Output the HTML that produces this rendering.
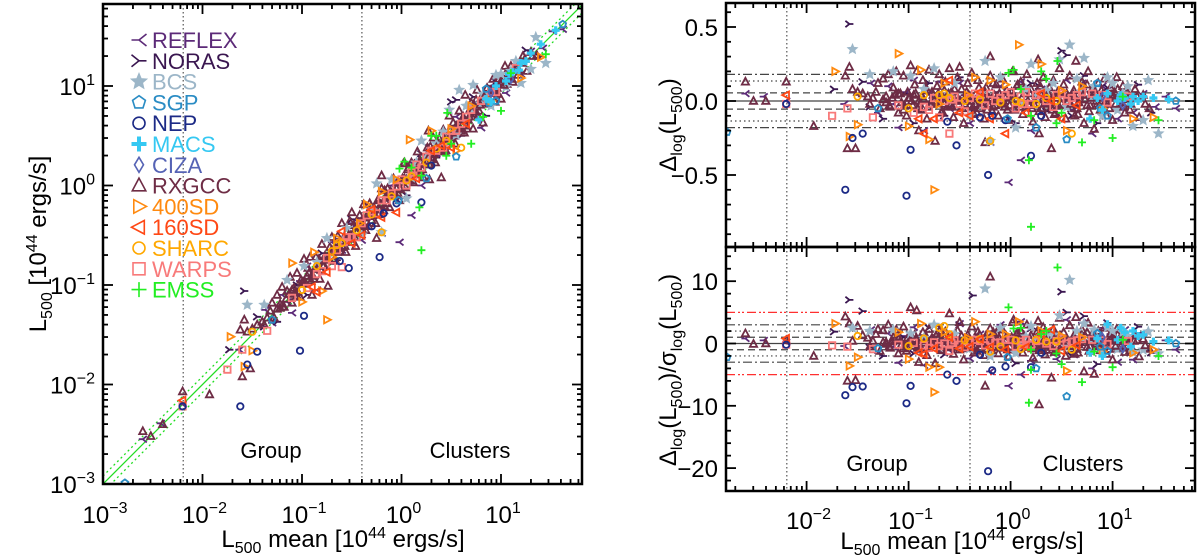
<!DOCTYPE html>
<html><head><meta charset="utf-8"><style>
html,body{margin:0;padding:0;background:#fff;}
svg{display:block;font-family:"Liberation Sans",sans-serif;}
</style></head><body>
<svg id="fig" width="1200" height="558" viewBox="0 0 1200 558" xmlns="http://www.w3.org/2000/svg">
<g id="grid"></g><g id="marks"></g><g id="axes"></g><g id="txt"></g>
</svg>
<script>
// ---- data: [log10 mean L500, delta_log, delta/sigma] ----
const catalogs = ["REFLEX","NORAS","BCS","SGP","NEP","MACS","CIZA","RXGCC","400SD","160SD","SHARC","WARPS","EMSS"];
const reflex = [[-2.6,0.05,0.8],[-2.42,0.03,0.5],[-2.2,0,0.2],[-1.63,-0.02,-0.4],[-1.37,0.12,2.2],[-1.3,-0.08,-1.5],[-1.2,0.1,1.6],[-1.1,-0.18,-3.1],[-1.02,0.06,1.2],[-0.95,0.14,2.6],[-0.85,-0.2,-3.5],[-0.8,0.05,0.9],[-0.7,0.13,2.8],[-0.6,-0.05,-1.1],[-0.5,0.12,3.2],[-0.4,-0.15,-2.4],[-0.3,0.07,1.5],[-0.2,-0.28,-4.5],[-0.1,0.1,3.0],[0.0,-0.05,-1.2],[0.1,0.13,3.5],[0.2,-0.2,-2.8],[0.3,0.08,2.0],[0.45,-0.1,-2.5],[0.55,0.14,3.8],[0.62,-0.06,-1.8],[0.7,0.12,3.3],[0.8,-0.22,-4.0],[0.9,0.1,2.5],[0.98,0.05,1.5],[1.05,-0.12,-3.0],[1.12,0.06,2.2],[1.2,-0.08,-2.6],[1.3,0.05,1.7],[1.42,-0.04,-1.3],[1.52,0.03,0.5],[1.62,-0.05,-1.0],[-0.02,-0.55,-6.8],[0.1,-0.4,-5.0],[-1.15,-0.02,-0.5],[-0.45,0.04,0.8],[0.35,-0.03,-0.6]];
const noras = [[-1.73,0.08,1.9],[-1.58,0.52,7.0],[-1.45,0.13,5.2],[-1.25,-0.12,-2.0],[-1.05,0.05,1.0],[-0.95,-0.15,-1.6],[-0.8,0.12,2.5],[-0.65,-0.1,-1.8],[-0.5,0.16,3.0],[-0.35,-0.05,-0.8],[-0.15,0.06,1.3],[0.05,-0.15,-3.2],[0.2,0.12,2.4],[0.35,-0.07,-1.5],[0.5,0.34,8.3],[0.55,0.31,5.0],[0.6,-0.1,-2.0],[0.72,0.17,4.4],[0.85,-0.15,-3.3],[0.95,0.09,3.3],[1.1,-0.03,-0.9],[1.25,0.11,2.7],[1.38,-0.08,-1.5],[-0.37,0.02,7.7],[-1.38,-0.04,-0.6],[0.28,0.1,1.9]];
const bcs = [[-1.55,0.35,2.5],[-1.38,0.18,2.0],[-1.15,0.2,2.2],[-0.98,0.17,1.6],[-0.75,0.22,3.0],[-0.55,0.12,1.5],[-0.4,-0.1,-0.8],[-0.25,0.27,8.8],[-0.1,0.16,2.5],[0.05,-0.18,-1.5],[0.2,0.25,2.8],[0.35,0.07,1.2],[0.48,0.28,4.5],[0.58,0.38,10.2],[0.65,0.15,2.0],[0.72,0.29,3.2],[0.82,0.1,2.2],[0.9,-0.1,-1.5],[1.0,0.12,2.0],[1.1,0.05,1.8],[1.2,-0.17,-1.4],[1.3,-0.13,-1.0],[1.45,-0.22,-1.6],[1.35,0.14,1.9],[0.15,0.08,1.1],[-0.6,0.04,0.6],[0.42,0.12,1.4],[0.7,0.06,0.9],[0.95,0.16,2.6],[-0.2,-0.27,-2.0],[1.15,0.1,1.2],[-0.85,0.08,0.9],[0.25,0.03,0.5],[0.55,-0.04,-0.6],[0.8,0.02,0.4],[1.05,-0.06,-0.9],[-0.3,0.05,0.7],[0.1,-0.02,-0.3]];
const sgp = [[-2.78,-0.21,-2.2],[-1.3,-0.05,-0.8],[0.25,-0.18,-4.0],[0.55,-0.26,-8.5],[0.85,0.12,1.6],[0.95,-0.1,-1.2],[1.62,0.0,0.0],[0.88,-0.05,-0.5],[-0.03,-0.12,-2.2]];
const nep = [[-2.2,-0.02,-0.2],[-1.62,-0.6,-8.3],[-1.55,-0.25,-7.0],[-1.45,-0.22,-6.9],[-1.02,-0.64,-9.6],[-0.98,-0.33,-6.8],[-0.62,-0.14,-5.0],[-0.53,-0.3,-6.0],[-0.3,-0.11,-1.8],[-0.22,-0.5,-20.5],[-0.18,-0.1,-4.3],[-0.05,-0.13,-3.7],[0.2,-0.37,-3.8],[0.3,-0.1,-1.5]];
const macs = [[0.85,0.02,0.8],[0.95,0.05,3.1],[1.05,0.0,0.6],[1.12,0.02,1.8],[1.2,0.03,2.0],[1.25,0.0,1.2],[1.3,0.03,1.4],[1.18,-0.02,-0.5],[1.55,0.01,0.5],[1.4,0.02,0.3],[0.78,-0.12,-1.5],[0.9,-0.06,-2.0],[1.08,0.04,2.5]];
const ciza = [[0.9,0.03,1.0],[1.1,-0.03,-0.8]];
const rxgcc = [[-2.6,0.13,1.6],[-2.52,0.0,-0.1],[-2.4,0.0,0.0],[-2.2,0.13,0.5],[-1.93,-0.17,-2.0],[-1.62,0.17,4.3],[-1.58,0.23,3.2],[-1.55,0.08,0.4],[-1.52,-0.32,-5.9],[-1.5,0.06,2.8],[-1.45,0.05,1.3],[-1.4,0.03,0.9],[-1.38,-0.02,-0.5],[-1.35,0.02,0.4],[-1.32,0.06,1.5],[-1.3,0.12,2.3],[-1.28,-0.05,-1.2],[-1.25,0.15,2.1],[-1.22,0.03,0.2],[-1.2,0.18,3.0],[-1.18,-0.04,-0.7],[-1.15,0.09,1.0],[-1.12,0.2,2.2],[-1.1,-0.08,-1.6],[-1.08,0.05,0.5],[-1.05,0.17,2.7],[-1.02,-0.1,-1.2],[-1.0,0.02,0.3],[-0.98,0.24,5.8],[-0.96,-0.03,-0.4],[-0.94,0.11,1.4],[-0.92,0.2,5.3],[-0.9,0.0,-0.1],[-0.88,-0.06,-0.9],[-0.86,0.14,1.8],[-0.84,0.07,1.1],[-0.82,-0.12,-1.9],[-0.8,0.21,2.3],[-0.78,-0.02,-0.3],[-0.76,0.04,0.6],[-0.74,-0.27,-3.2],[-0.72,0.1,1.6],[-0.7,0.18,2.0],[-0.68,-0.08,-1.1],[-0.66,0.02,0.4],[-0.64,0.13,1.9],[-0.62,-0.04,-0.6],[-0.6,0.22,4.8],[-0.58,0.06,0.8],[-0.56,-0.11,-1.7],[-0.54,0.0,0.1],[-0.52,0.16,2.1],[-0.5,-0.07,-1.0],[-0.48,0.08,1.2],[-0.46,-0.15,-2.6],[-0.44,0.03,0.5],[-0.42,0.12,1.4],[-0.4,-0.03,-0.4],[-0.38,0.19,2.7],[-0.36,-0.09,-1.5],[-0.34,0.05,0.7],[-0.32,0.14,1.9],[-0.3,-0.05,-0.8],[-0.28,0.01,0.2],[-0.26,-0.12,-1.9],[-0.24,0.09,1.3],[-0.22,-0.02,-0.3],[-0.2,0.17,2.4],[-0.18,-0.07,-1.2],[-0.16,0.04,0.6],[-0.14,0.11,1.7],[-0.12,-0.1,-1.6],[-0.1,0.02,0.3],[-0.08,0.15,2.2],[-0.06,-0.04,-0.7],[-0.04,0.07,1.1],[-0.02,-0.13,-2.1],[0.0,0.03,0.5],[0.02,0.2,3.4],[0.04,-0.06,-1.0],[0.06,0.1,1.6],[0.08,-0.01,-0.2],[0.1,0.13,2.0],[0.12,-0.09,-1.5],[0.14,0.05,0.8],[0.16,0.18,3.0],[0.18,-0.03,-0.5],[0.2,0.08,1.3],[0.22,-0.14,-2.3],[0.24,0.01,0.2],[0.26,0.12,1.9],[0.28,-0.07,-1.1],[0.3,0.04,0.7],[0.32,0.16,2.6],[0.34,-0.11,-1.8],[0.36,0.02,0.3],[0.38,0.09,1.4],[0.4,-0.04,-0.6],[0.42,0.14,2.3],[0.44,-0.08,-1.3],[0.46,0.06,1.0],[0.48,0.22,4.1],[0.5,-0.02,-0.3],[0.52,0.11,1.8],[0.54,-0.12,-2.0],[0.56,0.03,0.5],[0.58,0.17,2.9],[0.6,-0.05,-0.9],[0.62,0.07,1.2],[0.64,0.27,4.2],[0.66,-0.09,-1.5],[0.68,0.01,0.2],[0.7,0.13,2.2],[0.72,-0.15,-4.5],[0.74,0.05,0.9],[0.76,0.2,3.3],[0.78,-0.03,-0.5],[0.8,0.08,1.4],[0.82,-0.19,-4.9],[0.84,0.0,0.0],[0.86,0.12,2.0],[0.88,-0.06,-1.1],[0.9,0.04,0.7],[0.92,0.15,2.5],[0.94,-0.1,-1.7],[0.96,0.02,0.4],[0.98,0.09,1.6],[1.0,-0.13,-2.6],[1.02,0.06,1.0],[1.04,0.16,2.3],[1.06,-0.04,-0.8],[1.08,0.03,0.6],[1.1,0.1,1.8],[1.12,-0.08,-1.4],[1.15,0.05,0.9],[1.18,-0.02,-0.4],[1.22,0.08,1.3],[1.26,-0.11,-2.1],[1.3,0.04,0.7],[1.36,-0.05,-0.9],[-0.2,0.3,10.7],[0.27,0.28,3.6],[0.4,-0.32,-5.5],[-0.25,-0.28,-6.8],[-1.6,-0.32,-6.0],[0.28,-0.22,-9.8],[-0.5,0.23,3.4],[0.03,0.2,3.8],[-0.9,-0.2,-3.0]];
const rxgccCore = [[-1.25,0.01,0.2],[-1.19,-0.03,-0.5],[-1.13,0.04,0.6],[-1.07,-0.01,-0.2],[-1.01,0.06,0.9],[-0.97,0.0,0.0],[-0.91,-0.05,-0.7],[-0.87,0.03,0.5],[-0.83,0.09,1.2],[-0.79,-0.02,-0.3],[-0.75,0.0,0.1],[-0.71,0.05,0.8],[-0.67,-0.07,-1.0],[-0.63,0.02,0.3],[-0.59,-0.03,-0.5],[-0.55,0.08,1.1],[-0.51,0.01,0.1],[-0.47,-0.05,-0.8],[-0.43,0.06,0.9],[-0.39,0.0,0.0],[-0.35,-0.02,-0.4],[-0.31,0.09,1.3],[-0.27,0.03,0.4],[-0.23,-0.06,-0.9],[-0.19,0.01,0.2],[-0.15,-0.03,-0.5],[-0.11,0.05,0.8],[-0.07,0.0,0.0],[-0.03,-0.06,-1.0],[0.01,0.06,1.0],[0.05,0.01,0.2],[0.09,-0.04,-0.7],[0.13,0.08,1.3],[0.17,0.0,0.0],[0.21,-0.05,-0.8],[0.25,0.04,0.6],[0.29,0.1,1.6],[0.33,-0.02,-0.3],[0.37,0.05,0.8],[0.41,-0.06,-1.0],[0.45,0.02,0.3],[0.49,0.07,1.2],[0.53,-0.03,-0.5],[0.57,0.0,0.0],[0.61,0.05,0.9],[0.65,-0.05,-0.9],[0.69,0.08,1.4],[0.73,0.01,0.2],[0.77,-0.07,-1.2],[0.81,0.04,0.7],[0.85,-0.02,-0.4],[0.89,0.07,1.2],[0.93,0.0,0.0],[0.97,-0.05,-0.9],[1.01,0.03,0.5],[1.05,0.08,1.4],[1.09,-0.01,-0.2],[1.13,0.04,0.7],[1.17,-0.06,-1.1],[1.21,0.02,0.4],[-0.95,0.04,0.5],[-0.65,0.07,1.0],[-0.33,-0.08,-1.2],[0.07,0.11,1.7],[0.43,-0.09,-1.4],[0.75,0.11,1.8],[-1.05,-0.06,-0.8],[-0.17,0.12,1.8],[0.31,0.01,0.1],[0.63,-0.1,-1.7]];
const rxgccCore2 = [[-1.22,-0.01,-0.1],[-1.16,0.02,0.3],[-1.1,0.05,0.7],[-1.04,-0.03,-0.4],[-0.99,0.02,0.3],[-0.93,0.05,0.7],[-0.89,-0.02,-0.3],[-0.85,0.01,0.1],[-0.81,-0.04,-0.6],[-0.77,0.06,0.9],[-0.73,-0.01,-0.2],[-0.69,0.03,0.4],[-0.65,-0.02,-0.3],[-0.61,0.05,0.7],[-0.57,-0.04,-0.6],[-0.53,0.03,0.4],[-0.49,0.0,0.0],[-0.45,-0.02,-0.3],[-0.41,0.04,0.6],[-0.37,-0.04,-0.6],[-0.33,0.02,0.3],[-0.29,-0.01,-0.1],[-0.25,0.06,0.9],[-0.21,0.02,0.3],[-0.17,-0.04,-0.6],[-0.13,0.03,0.5],[-0.09,-0.02,-0.3],[-0.05,0.02,0.3],[-0.01,-0.03,-0.5],[0.03,0.04,0.6],[0.07,-0.02,-0.3],[0.11,0.02,0.3],[0.15,-0.04,-0.6],[0.19,0.05,0.8],[0.23,-0.02,-0.3],[0.27,0.01,0.1],[0.31,-0.05,-0.8],[0.35,0.03,0.5],[0.39,-0.01,-0.2],[0.43,0.04,0.7],[0.47,-0.03,-0.5],[0.51,0.02,0.4],[0.55,0.05,0.8],[0.59,-0.02,-0.4],[0.63,0.03,0.5],[0.67,-0.01,-0.2],[0.71,0.04,0.7],[0.75,-0.03,-0.6],[0.79,0.02,0.4],[0.83,0.06,1.0],[0.87,-0.03,-0.5],[0.91,0.02,0.4],[0.95,-0.02,-0.4],[0.99,0.04,0.7],[1.03,-0.02,-0.4],[1.07,0.02,0.3],[1.11,-0.04,-0.7],[1.16,0.01,0.2],[1.24,0.03,0.5],[1.32,-0.02,-0.3]];
const sd400 = [[-1.72,0.2,3.2],[-1.58,-0.24,-3.6],[-1.5,-0.16,-2.2],[-1.1,0.32,1.8],[-1.0,-0.17,-2.5],[-0.88,0.21,3.2],[-0.8,-0.26,-3.8],[-0.75,-0.6,-7.8],[-0.65,0.12,1.8],[-0.35,0.16,3.5],[-0.2,0.14,1.5],[0.08,0.38,3.5],[0.3,0.25,2.0],[0.55,-0.2,-4.4],[0.7,0.1,1.0],[0.9,-0.05,-1.3],[1.2,-0.12,-1.5],[1.4,-0.11,-1.0],[-0.05,0.11,1.5],[-0.42,0.04,0.9],[0.5,0.07,1.2],[-0.7,-0.02,-3.8]];
const sd160 = [[-2.2,0.04,0.8],[-0.9,-0.12,-1.5],[-0.85,-0.22,-1.7],[-0.75,-0.12,-0.8],[-0.6,0.14,1.0],[-0.5,-0.08,-0.8],[-0.4,-0.1,-0.5],[-0.2,-0.12,-0.6],[-0.05,-0.22,-1.0],[0.15,-0.08,-0.6],[0.3,0.05,1.5],[0.5,-0.12,-1.2],[0.65,-0.03,-0.3],[0.4,0.0,2.2],[-0.3,0.06,0.7]];
const sharc = [[-1.5,0.03,1.2],[-1.0,-0.05,-0.4],[-0.85,0.04,0.8],[-0.7,0.04,2.5],[-0.65,0.05,2.8],[-0.6,0.02,1.5],[-0.45,0.0,0.5],[-0.3,0.01,0.7],[-0.1,-0.01,-0.5],[0.05,0.0,0.5],[0.1,-0.01,-0.9],[0.25,-0.02,0.6],[0.45,0.0,0.3],[0.6,-0.22,-1.0],[-0.2,-0.27,-1.3],[0.35,0.02,0.3]];
const warps = [[-2.2,-0.02,-0.2],[-1.75,-0.1,-0.3],[-1.6,-0.05,-0.5],[-1.35,-0.11,-0.9],[-1.1,-0.03,-0.2],[-0.95,-0.08,0.1],[-0.8,-0.06,-0.7],[-0.7,-0.11,-0.4],[-0.6,-0.22,-1.2],[-0.55,0.03,0.5],[-0.45,-0.07,-0.6],[-0.35,0.05,0.6],[-0.25,-0.03,-0.3],[-0.15,0.0,0.1],[-0.05,0.04,0.6],[0.05,-0.05,-0.5],[0.1,0.03,0.3],[0.25,0.04,0.4],[0.35,0.0,0.0],[0.5,0.05,0.8],[-0.85,-0.04,-0.3],[-0.4,0.02,0.2],[0.2,-0.02,-0.2],[-0.65,0.0,0.0],[0.42,-0.04,-0.4],[0.15,0.06,0.6],[-0.2,0.05,0.5],[0.6,0.02,0.3],[-0.5,-0.02,-0.2],[0.7,0.06,0.7],[0.9,0.04,0.5],[1.15,0.03,0.4]];
const warpsCore = [[-0.3,0.04,0.4],[-0.1,0.02,0.2],[0.0,0.06,0.6],[0.3,0.05,0.5],[0.45,0.04,0.4],[0.55,0.0,0.0],[0.65,0.04,0.5],[0.8,0.05,0.6],[-0.58,0.01,0.1],[-0.75,0.02,0.2],[0.12,-0.02,-0.2],[0.95,-0.01,-0.1]];
const emss = [[-0.02,0.19,5.8],[0.03,0.21,2.4],[0.1,0.08,2.5],[0.2,-0.1,-1.0],[0.3,0.2,1.5],[0.35,0.15,2.0],[0.5,-0.08,-3.3],[0.18,-0.4,-9.5],[0.2,-0.85,-4.2],[0.7,-0.28,-6.2],[0.46,0.27,12.2],[0.82,-0.13,-1.3],[1.0,-0.25,-3.8],[1.1,0.03,0.6],[1.45,-0.13,-2.0],[0.45,-0.15,-1.6]];
const topLines = [0.055, 0.135, 0.18];
const botLines = [1, 2, 3, 5];
const divisions = [0.0064, 0.4];

const NS="http://www.w3.org/2000/svg";
const G=document.getElementById('grid'),M=document.getElementById('marks'),A=document.getElementById('axes'),T=document.getElementById('txt');
const P1={x0:103,x1:582,y0:4,y1:484};
const P2={x0:726,x1:1195,y0:3,y1:247};
const P3={x0:726,x1:1195,y0:247,y1:491};
const LX=l=>P1.x0+(l+3)*99.5, LY=l=>P1.y1-(l+3)*99.5;
const RX=l=>P2.x0+(l+2.79)*102;
const TY=v=>101-v*148;
const BY=v=>343.5-v*6.23;

function el(tag,attrs,parent){const e=document.createElementNS(NS,tag);for(const k in attrs)e.setAttribute(k,attrs[k]);parent.appendChild(e);return e;}

const defs=el('defs',{},document.getElementById('fig'));
[['c1',P1],['c2',P2],['c3',P3]].forEach(([id,p])=>{const c=el('clipPath',{id:id},defs);el('rect',{x:p.x0,y:p.y0,width:p.x1-p.x0,height:p.y1-p.y0},c);});

function hline(y,p,dash,color,w,name){
  const l=el('line',{x1:p.x0,x2:p.x1,y1:y,y2:y,stroke:color,'stroke-width':w,'stroke-dasharray':dash},G);
  
  
}
hline(TY(0),P2,'','#444',1.3,'zero-line-top');
hline(BY(0),P3,'','#444',1.3,'zero-line-bottom');
const tdash=['7,4','1.5,3','9,3,2,3'];
topLines.forEach((v,i)=>{hline(TY(v),P2,tdash[i],'#444',1.2,'scatter-line-top');hline(TY(-v),P2,tdash[i],'#444',1.2,'scatter-line-top');});
const bdash=['7,4','1.5,3','9,3,2,3','9,3,2,2,2,3'];
botLines.forEach((v,i)=>{const c=v===5?'#ff3030':'#444';hline(BY(v),P3,bdash[i],c,1.2,'sigma-line');hline(BY(-v),P3,bdash[i],c,1.2,'sigma-line');});
divisions.forEach(d=>{
  const lg=Math.log10(d);
  [[LX(lg),P1],[RX(lg),P2],[RX(lg),P3]].forEach(([x,p])=>{
    const l=el('line',{x1:x,x2:x,y1:p.y0,y2:p.y1,stroke:'#555','stroke-width':1.2,'stroke-dasharray':'1.5,2.5'},G);
    
    
  });
});
[[0,''],[0.08,'2,3'],[-0.08,'2,3']].forEach(([o,d])=>{
  const l=el('line',{x1:LX(-3),y1:LY(-3+o),x2:LX(1.82),y2:LY(1.82+o),stroke:'#22dd22','stroke-width':1.3,'stroke-dasharray':d,'clip-path':'url(#c1)'},G);
  
  
});

const style={
 REFLEX:['reflex','#5c2a78'],NORAS:['noras','#3a1650'],BCS:['star','#9cb6c8'],SGP:['pent','#2a8cc4'],NEP:['hex','#1c2a86'],
 MACS:['fplus','#35c8f2'],CIZA:['diam','#5563b5'],RXGCC:['tri','#6e2c45'],'400SD':['rtri','#ff8a10'],'160SD':['ltri','#ff4815'],
 SHARC:['circ','#ffa800'],WARPS:['sq','#f87a7a'],EMSS:['plus','#22ee22']};
function shape(t,x,y,s){
  const f=n=>n.toFixed(1);
  switch(t){
   case 'reflex':return `M${f(x-s)} ${f(y)}L${f(x)} ${f(y)}M${f(x+s)} ${f(y-s*0.8)}L${f(x)} ${f(y)}L${f(x+s)} ${f(y+s*0.8)}`;
   case 'noras':return `M${f(x+s)} ${f(y)}L${f(x)} ${f(y)}M${f(x-s)} ${f(y-s*0.8)}L${f(x)} ${f(y)}L${f(x-s)} ${f(y+s*0.8)}`;
   case 'tri':return `M${f(x)} ${f(y-s)}L${f(x+s*0.9)} ${f(y+s*0.7)}L${f(x-s*0.9)} ${f(y+s*0.7)}Z`;
   case 'rtri':return `M${f(x+s)} ${f(y)}L${f(x-s*0.7)} ${f(y-s*0.9)}L${f(x-s*0.7)} ${f(y+s*0.9)}Z`;
   case 'ltri':return `M${f(x-s)} ${f(y)}L${f(x+s*0.7)} ${f(y-s*0.9)}L${f(x+s*0.7)} ${f(y+s*0.9)}Z`;
   case 'sq':return `M${f(x-s*0.8)} ${f(y-s*0.8)}h${f(s*1.6)}v${f(s*1.6)}h${f(-s*1.6)}Z`;
   case 'diam':return `M${f(x)} ${f(y-s)}L${f(x+s*0.6)} ${f(y)}L${f(x)} ${f(y+s)}L${f(x-s*0.6)} ${f(y)}Z`;
   case 'plus':case 'fplus':return `M${f(x-s)} ${f(y)}h${f(2*s)}M${f(x)} ${f(y-s)}v${f(2*s)}`;
   case 'circ':case 'hex':return `M${f(x-s*0.8)} ${f(y)}a${f(s*0.8)} ${f(s*0.8)} 0 1 0 ${f(s*1.6)} 0a${f(s*0.8)} ${f(s*0.8)} 0 1 0 ${f(-s*1.6)} 0`;
   case 'pent':{let d='';for(let i=0;i<5;i++){const a=-Math.PI/2+i*2*Math.PI/5;d+=(i?'L':'M')+f(x+s*0.9*Math.cos(a))+' '+f(y+s*0.9*Math.sin(a));}return d+'Z';}
   case 'star':{let d='';for(let i=0;i<10;i++){const a=-Math.PI/2+i*Math.PI/5,r=i%2?s*0.45:s;d+=(i?'L':'M')+f(x+r*Math.cos(a))+' '+f(y+r*Math.sin(a));}return d+'Z';}
  }
}
function marker(cat,x,y,s,parent,clip){
  const [t,c]=style[cat];
  const filled=(t==='star');
  const w=t==='fplus'?3.2:1.8;
  const p=el('path',{d:shape(t,x,y,s),fill:filled?c:'none',stroke:c,'stroke-width':w,'stroke-linejoin':'miter'},parent);
  if(clip)p.setAttribute('clip-path',clip);
  return p;
}
const order=[['REFLEX',reflex],['NORAS',noras],['RXGCC',rxgcc],['RXGCC',rxgccCore],['BCS',bcs],['RXGCC',rxgccCore2],['WARPS',warps],['WARPS',warpsCore],['SHARC',sharc],['400SD',sd400],['160SD',sd160],['NEP',nep],['SGP',sgp],['CIZA',ciza],['MACS',macs],['EMSS',emss]];
order.forEach(([cat,arr])=>{
  arr.forEach(pt=>{
    const [lx,dl,r]=pt;
    const m1=marker(cat,LX(lx),LY(lx+dl),4,M,'url(#c1)');
    
    
    const m2=marker(cat,RX(lx),TY(dl),4,M,'url(#c2)');
    
    
    const m3=marker(cat,RX(lx),BY(r),4,M,'url(#c3)');
    
    
  });
});

[[P1,'left-panel-frame'],[P2,'top-right-frame'],[P3,'bottom-right-frame']].forEach(([p,n])=>{
  const r=el('rect',{x:p.x0,y:p.y0,width:p.x1-p.x0,height:p.y1-p.y0,fill:'none',stroke:'#000','stroke-width':2.5},A);
  
  
});
function tick(x1,y1,x2,y2){el('line',{x1:x1,y1:y1,x2:x2,y2:y2,stroke:'#000','stroke-width':1.8},A);}
function logTicks(fx,p,lo,hi,horiz){
  for(let d=Math.floor(lo);d<=Math.ceil(hi);d++){
    for(let k=1;k<10;k++){
      const l=d+Math.log10(k); if(l<lo-1e-6||l>hi+1e-6)continue;
      const len=k===1?10:5; const v=fx(l);
      if(horiz){tick(v,p.y1,v,p.y1-len);tick(v,p.y0,v,p.y0+len);}
      else{tick(p.x0,v,p.x0+len,v);tick(p.x1,v,p.x1-len,v);}
    }
  }
}
logTicks(LX,P1,-3,1.81,true);logTicks(LY,P1,-3,1.82,false);
logTicks(RX,P2,-2.79,1.81,true);logTicks(RX,P3,-2.79,1.81,true);
function linTicks(fy,p,lo,hi,step,minor){
  for(let v=Math.ceil(lo/minor)*minor;v<=hi+1e-9;v+=minor){
    const isMaj=Math.abs(v/step-Math.round(v/step))<1e-6;const len=isMaj?10:5;const y=fy(v);
    tick(p.x0,y,p.x0+len,y);tick(p.x1,y,p.x1-len,y);
  }
}
linTicks(TY,P2,-0.98,0.66,0.5,0.1);
linTicks(BY,P3,-23.8,15.4,10,2);

const FS=24, FSS=16;
function text(x,y,str,opts,name){
  const t=el('text',Object.assign({x:x,y:y,'font-size':FS,fill:'#000'},opts||{}),T);
  t.textContent=str;
  
  
  return t;
}
function pow(x,y,exp,anchor,name){
  const t=el('text',{x:x,y:y,'font-size':FS,'text-anchor':anchor},T);
  
  
  const a=el('tspan',{},t);a.textContent='10';
  const b=el('tspan',{dy:-10,'font-size':FSS},t);b.textContent=exp;
}
const xExp=['\u22123','\u22122','\u22121','0','1'];
xExp.forEach((e,i)=>pow(LX(i-3)+2,523,e,'middle','x-tick-label'));
xExp.forEach((e,i)=>pow(95,LY(i-3)+9,e,'end','y-tick-label'));
xExp.slice(1).forEach((e,i)=>pow(RX(i-2)+2,529,e,'middle','x-tick-label-right'));
[['0.5',0.5],['0.0',0],['\u22120.5',-0.5]].forEach(([s,v])=>text(718,TY(v)+9,s,{'text-anchor':'end'},'top-y-tick-label'));
[['10',10],['0',0],['\u221210',-10],['\u221220',-20]].forEach(([s,v])=>text(718,BY(v)+9,s,{'text-anchor':'end'},'bottom-y-tick-label'));

function richTitle(x,y,parts,rot,name){
  const t=el('text',{x:x,y:y,'font-size':FS,'text-anchor':'middle'},T);
  if(rot)t.setAttribute('transform',`rotate(-90 ${x} ${y})`);
  
  
  parts.forEach(([s,dy,fs])=>{const sp=el('tspan',{},t);if(dy)sp.setAttribute('dy',dy);if(fs)sp.setAttribute('font-size',fs);sp.textContent=s;});
}
const xt=[['L',0,0],['500',6,FSS],[' mean [10',-6,0],['44',-9,FSS],[' ergs/s]',9,0]];
richTitle(343,547,xt,false,'x-axis-title');
richTitle(962,549,xt,false,'x-axis-title-right');
richTitle(46,244,[['L',0,0],['500',6,FSS],[' [10',-6,0],['44',-9,FSS],[' ergs/s]',9,0]],true,'y-axis-title');
richTitle(676,125,[['\u0394',0,0],['log',6,FSS],['(L',-6,0],['500',6,FSS],[')',-6,0]],true,'top-y-axis-title');
richTitle(676,370,[['\u0394',0,0],['log',6,FSS],['(L',-6,0],['500',6,FSS],[')/\u03c3',-6,0],['log',6,FSS],['(L',-6,0],['500',6,FSS],[')',-6,0]],true,'bottom-y-axis-title');

text(271,458,'Group',{'text-anchor':'middle','font-size':22},'group-label');
text(470,458,'Clusters',{'text-anchor':'middle','font-size':22},'clusters-label');
text(877,471,'Group',{'text-anchor':'middle','font-size':22},'group-label-right');
text(1083,471,'Clusters',{'text-anchor':'middle','font-size':22},'clusters-label-right');

catalogs.forEach((c,i)=>{
  const y=40+i*20.8;
  const g=el('g',{},T);
  
  
  marker(c,139,y,7.5,g,null).setAttribute('stroke-width',style[c][0]==='fplus'?4:1.6);
  const t=el('text',{x:152,y:y+8,'font-size':22,fill:style[c][1]},g);
  t.textContent=c;
});
</script>
</body></html>
